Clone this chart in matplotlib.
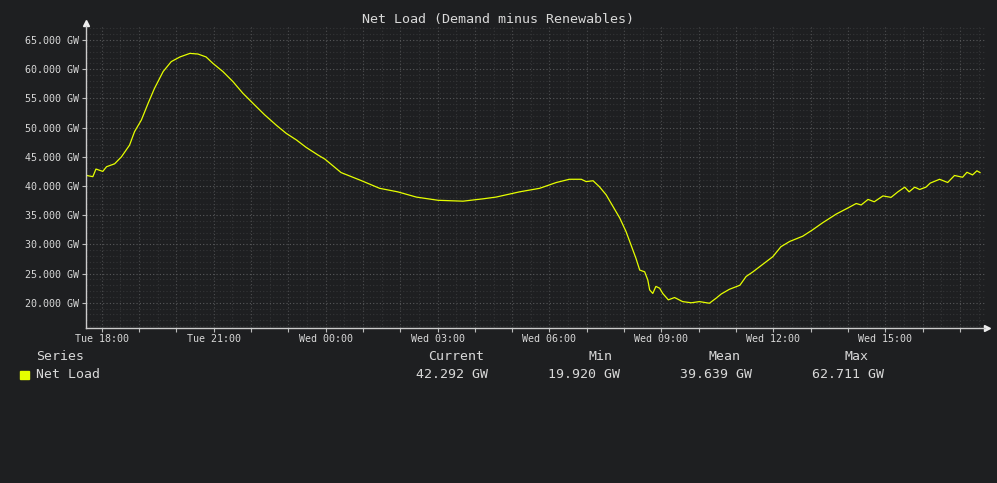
import matplotlib
matplotlib.use('Agg')
import matplotlib.pyplot as plt
import matplotlib.dates as mdates
from matplotlib.ticker import MultipleLocator, FuncFormatter
import pandas as pd

# net load readings, Tue evening -> Wed evening (GW)
times = ['17:36', '17:46', '17:51', '18:02', '18:08', '18:21', '18:32', '18:45', '18:53', '19:04',
         '19:15', '19:25', '19:39', '19:52', '20:06', '20:22', '20:35', '20:48', '20:59', '21:15',
         '21:31', '21:47', '22:03', '22:22', '22:41', '22:57', '23:13', '23:29', '23:48', '23:59',
         '00:25', '00:58', '01:27', '01:56', '02:26', '03:01', '03:41', '04:13', '04:34', '05:12',
         '05:44', '06:11', '06:32', '06:51', '06:59', '07:10', '07:20', '07:31', '07:42', '07:53',
         '08:03', '08:11', '08:19', '08:25', '08:33', '08:38', '08:41', '08:46', '08:51', '08:57',
         '09:02', '09:11', '09:21', '09:34', '09:48', '10:01', '10:17', '10:28', '10:36', '10:49',
         '11:06', '11:16', '11:27', '11:43', '11:59', '12:12', '12:26', '12:47', '13:03', '13:19',
         '13:41', '13:59', '14:13', '14:21', '14:32', '14:42', '14:56', '15:09', '15:20', '15:31',
         '15:38', '15:47', '15:55', '16:05', '16:12', '16:27', '16:40', '16:51', '17:04', '17:11',
         '17:20', '17:27', '17:32']
net_load = [41.8, 41.6, 42.9, 42.5, 43.3, 43.8, 45.0, 47.0, 49.3, 51.3,
            54.2, 56.7, 59.6, 61.3, 62.1, 62.71, 62.6, 62.1, 61.0, 59.6,
            57.9, 55.9, 54.2, 52.2, 50.4, 49.0, 47.9, 46.6, 45.3, 44.6,
            42.3, 40.9, 39.6, 39.0, 38.1, 37.55, 37.4, 37.8, 38.1, 39.0,
            39.6, 40.6, 41.15, 41.15, 40.75, 40.9, 39.9, 38.5, 36.5, 34.5,
            32.2, 29.9, 27.6, 25.6, 25.3, 23.9, 22.2, 21.6, 22.8, 22.5,
            21.6, 20.5, 20.9, 20.2, 20.0, 20.2, 19.92, 20.8, 21.5, 22.3,
            23.0, 24.5, 25.3, 26.6, 27.9, 29.6, 30.5, 31.4, 32.5, 33.7,
            35.2, 36.2, 37.0, 36.75, 37.7, 37.3, 38.3, 38.05, 39.0, 39.8,
            39.0, 39.8, 39.4, 39.8, 40.5, 41.15, 40.6, 41.8, 41.5, 42.35,
            41.9, 42.6, 42.292]

legend_cols = ['Current', 'Min', 'Mean', 'Max']
legend_vals = ['42.292 GW', '19.920 GW', '39.639 GW', '62.711 GW']

# build timestamps, rolling over to the next day after midnight
stamps = []
day = pd.Timestamp('2024-06-11')
prev = None
for t in times:
    h, m = map(int, t.split(':'))
    if prev is not None and h < prev:
        day = day + pd.Timedelta(days=1)
    prev = h
    stamps.append(day + pd.Timedelta(hours=h, minutes=m))

bg = '#1e1f21'
fg = '#d8d8d8'
line_col = '#e6ff00'
mono = 'DejaVu Sans Mono'

fig = plt.figure(figsize=(9.97, 4.83), dpi=100, facecolor=bg)
W, H = 997, 483
ax = fig.add_axes([86 / W, (H - 328) / H, 899 / W, 302 / H])
ax.set_facecolor(bg)

ax.plot(stamps, net_load, color=line_col, lw=0.9)

t0 = pd.Timestamp('2024-06-11 18:00')
ax.set_xlim(t0 - pd.Timedelta(minutes=25), t0 + pd.Timedelta(minutes=1420))
ax.set_ylim(15.68, 67.4)

ax.xaxis.set_major_locator(mdates.HourLocator(byhour=range(0, 24, 3)))
ax.xaxis.set_major_formatter(mdates.DateFormatter('%a %H:%M'))
ax.yaxis.set_major_locator(MultipleLocator(5))
ax.yaxis.set_minor_locator(MultipleLocator(1))
ax.yaxis.set_major_formatter(FuncFormatter(lambda v, p: '%.3f GW' % v))

# grid: hourly + half-hourly vertical, 5 GW + 1 GW horizontal
for h in range(-1, 25):
    ts = t0 + pd.Timedelta(hours=h)
    ax.axvline(ts, color='#4c4d4f', lw=0.8, ls=(0, (1, 2)), zorder=0)
    ax.axvline(ts + pd.Timedelta(minutes=30), color='#343537', lw=0.8, ls=(0, (1, 2)), zorder=0)
ax.grid(True, which='major', axis='y', color='#58595b', lw=0.8, ls=(0, (1, 2)))
ax.grid(True, which='minor', axis='y', color='#343537', lw=0.8, ls=(0, (1, 2)))

ax.tick_params(axis='both', which='major', colors='#bbbbbb', labelcolor=fg, labelsize=7.2,
               length=3, width=0.8)
ax.tick_params(axis='y', which='minor', length=0)
ax.tick_params(axis='x', which='major', pad=1)
ax.tick_params(axis='y', which='major', pad=2)
for lab in ax.get_xticklabels() + ax.get_yticklabels():
    lab.set_family(mono)

# hourly small ticks on x axis
ax.set_xticks([t0 + pd.Timedelta(hours=h) for h in range(0, 24)], minor=True)
ax.tick_params(axis='x', which='minor', length=3, width=0.8, colors='#bbbbbb')

for s in ['top', 'right']:
    ax.spines[s].set_visible(False)
for s in ['left', 'bottom']:
    ax.spines[s].set_color('#cccccc')
    ax.spines[s].set_linewidth(1.0)

# axis arrows
ax.plot([0], [1.01], marker='^', color='#eeeeee', ms=4, transform=ax.transAxes, clip_on=False)
ax.plot([1.002], [0], marker='>', color='#eeeeee', ms=4, transform=ax.transAxes, clip_on=False)

fig.text(498 / W, 1 - 19 / H, 'Net Load (Demand minus Renewables)', color=fg,
         family=mono, fontsize=9.6, ha='center', va='center')

# legend table
fig.text(36 / W, 1 - 356 / H, 'Series', color=fg, family=mono,
         fontsize=9.5, ha='left', va='center')
fig.text(36 / W, 1 - 374 / H, 'Net Load', color=fg, family=mono,
         fontsize=9.5, ha='left', va='center')
fig.patches.append(plt.Rectangle((20 / W, 1 - 379 / H), 9 / W, 8 / H, color=line_col,
                                 transform=fig.transFigure, figure=fig))
head_x = [428, 588, 708, 844]
val_x = [416, 548, 680, 812]
for name, val, hx, vx in zip(legend_cols, legend_vals, head_x, val_x):
    fig.text(hx / W, 1 - 356 / H, name, color=fg, family=mono,
             fontsize=9.5, ha='left', va='center')
    fig.text(vx / W, 1 - 374 / H, val, color=fg, family=mono,
             fontsize=9.5, ha='left', va='center')

fig.savefig('out.png', dpi=100, facecolor=bg)
